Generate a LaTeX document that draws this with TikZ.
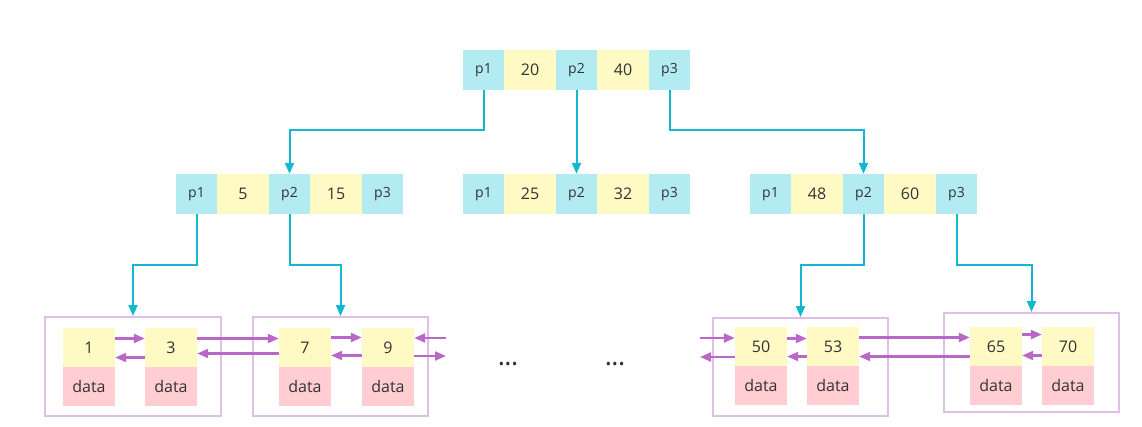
\documentclass[tikz,border=0pt]{standalone}
\usepackage{fontspec}
\setmainfont{Open Sans}
\usetikzlibrary{arrows.meta}
\definecolor{pcyan}{HTML}{B2EBF2}
\definecolor{kyel}{HTML}{FFF9C4}
\definecolor{dpink}{HTML}{FFCDD2}
\definecolor{lcyan}{HTML}{12B8D2}
\definecolor{lpurp}{HTML}{BA68C8}
\definecolor{bpurp}{HTML}{E1BEE7}
\definecolor{txt}{HTML}{333333}
\tikzset{
  cell/.style={rectangle, inner sep=0pt, minimum height=40pt, text=txt},
  pcell/.style={cell, fill=pcyan, minimum width=41pt, font=\fontsize{14}{16}\selectfont},
  kcell/.style={cell, fill=kyel, minimum width=52pt, font=\fontsize{16}{18}\selectfont},
  lkey/.style={rectangle, inner sep=0pt, minimum height=39pt, minimum width=52pt, fill=kyel, text=txt, font=\fontsize{16}{18}\selectfont},
  ldata/.style={rectangle, inner sep=0pt, minimum height=39pt, minimum width=52pt, fill=dpink, text=txt, font=\fontsize{16}{18}\selectfont},
  leafbox/.style={draw=bpurp, line width=2pt},
  tree/.style={draw=lcyan, line width=2pt, -{Triangle[length=11pt,width=9pt]}},
  link/.style={draw=lpurp, line width=2.2pt, -{Triangle[length=11pt,width=9pt]}},
  dots/.style={text=txt, font=\fontsize{15}{15}\selectfont}
}
\begin{document}
\begin{tikzpicture}[x=1pt,y=-1pt]
\useasboundingbox (0,0) rectangle (1142,426);
% top node
\node[pcell] (tp1) at (483.5,70) {p1};
\node[kcell] (t20) at (530,70) {20};
\node[pcell] (tp2) at (576.5,70) {p2};
\node[kcell] (t40) at (623,70) {40};
\node[pcell] (tp3) at (669.5,70) {p3};
% left node
\node[pcell] (lp1) at (196.5,194) {p1};
\node[kcell] (l5) at (243,194) {5};
\node[pcell] (lp2) at (289.5,194) {p2};
\node[kcell] (l15) at (336,194) {15};
\node[pcell] (lp3) at (382.5,194) {p3};
% middle node
\node[pcell] (mp1) at (483.5,194) {p1};
\node[kcell] (m25) at (530,194) {25};
\node[pcell] (mp2) at (576.5,194) {p2};
\node[kcell] (m32) at (623,194) {32};
\node[pcell] (mp3) at (669.5,194) {p3};
% right node
\node[pcell] (rp1) at (770.5,194) {p1};
\node[kcell] (r48) at (817,194) {48};
\node[pcell] (rp2) at (863.5,194) {p2};
\node[kcell] (r60) at (910,194) {60};
\node[pcell] (rp3) at (956.5,194) {p3};
% leaf boxes
\node[leafbox, minimum width=176pt, minimum height=99pt, inner sep=0pt] (b1) at (133,366.5) {};
\node[leafbox, minimum width=175pt, minimum height=99pt, inner sep=0pt] (b2) at (340.5,366.5) {};
\node[leafbox, minimum width=175pt, minimum height=98pt, inner sep=0pt] (b3) at (800.5,367) {};
\node[leafbox, minimum width=175pt, minimum height=99pt, inner sep=0pt] (b4) at (1031.5,362.5) {};
% leaves
\node[lkey] (k1) at (89,347.5) {1};
\node[ldata] (d1) at (89,386.5) {data};
\node[lkey] (k3) at (171,347.5) {3};
\node[ldata] (d3) at (171,386.5) {data};
\node[lkey] (k7) at (305,347.5) {7};
\node[ldata] (d7) at (305,386.5) {data};
\node[lkey] (k9) at (388,347.5) {9};
\node[ldata] (d9) at (388,386.5) {data};
\node[lkey] (k50) at (761,346.5) {50};
\node[ldata] (d50) at (761,385.5) {data};
\node[lkey] (k53) at (833,346.5) {53};
\node[ldata] (d53) at (833,385.5) {data};
\node[lkey] (k65) at (996,346.5) {65};
\node[ldata] (d65) at (996,385.5) {data};
\node[lkey] (k70) at (1068,346.5) {70};
\node[ldata] (d70) at (1068,385.5) {data};
% dots
\node[dots] (dotsA) at (508,366) {•\kern1pt•\kern1pt•};
\node[dots] (dotsB) at (615,366) {•\kern1pt•\kern1pt•};
% tree connectors
\draw[tree] (tp1.south) -- ++(0,40) -| (lp2.north);
\draw[tree] (tp2.south) -- (mp2.north);
\draw[tree] (tp3.south) -- ++(0,40) -| (rp2.north);
\draw[tree] (lp1.south) -- ++(0,51) -| (b1.north);
\draw[tree] (lp2.south) -- ++(0,51) -| (b2.north);
\draw[tree] (rp2.south) -- ++(0,51) -| (b3.north);
\draw[tree] (rp3.south) -- ++(0,51) -| (b4.north);
% leaf links
\coordinate (c9in) at (446,338);
\coordinate (c9out) at (446,356);
\coordinate (c50in) at (700,338);
\coordinate (c50out) at (700,357);
\draw[link] ([yshift=9pt]k1.east) -- ([yshift=9pt]k3.west);
\draw[link] ([yshift=-10pt]k3.west) -- ([yshift=-10pt]k1.east);
\draw[link] ([yshift=9pt]k3.east) -- ([yshift=9pt]k7.west);
\draw[link] ([yshift=-6pt]k7.west) -- ([yshift=-6pt]k3.east);
\draw[link] ([yshift=10pt]k7.east) -- ([yshift=10pt]k9.west);
\draw[link] ([yshift=-8pt]k9.west) -- ([yshift=-8pt]k7.east);
\draw[link] (c9in) -- (c9in -| k9.east);
\draw[link] (c9out -| k9.east) -- (c9out);
\draw[link] (c50in) -- (c50in -| k50.west);
\draw[link] (c50out -| k50.west) -- (c50out);
\draw[link] ([yshift=8pt]k50.east) -- ([yshift=8pt]k53.west);
\draw[link] ([yshift=-10pt]k53.west) -- ([yshift=-10pt]k50.east);
\draw[link] ([yshift=9pt]k53.east) -- ([yshift=9pt]k65.west);
\draw[link] ([yshift=-10pt]k65.west) -- ([yshift=-10pt]k53.east);
\draw[link] ([yshift=12pt]k65.east) -- ([yshift=12pt]k70.west);
\draw[link] ([yshift=-9pt]k70.west) -- ([yshift=-9pt]k65.east);
\end{tikzpicture}
\end{document}
